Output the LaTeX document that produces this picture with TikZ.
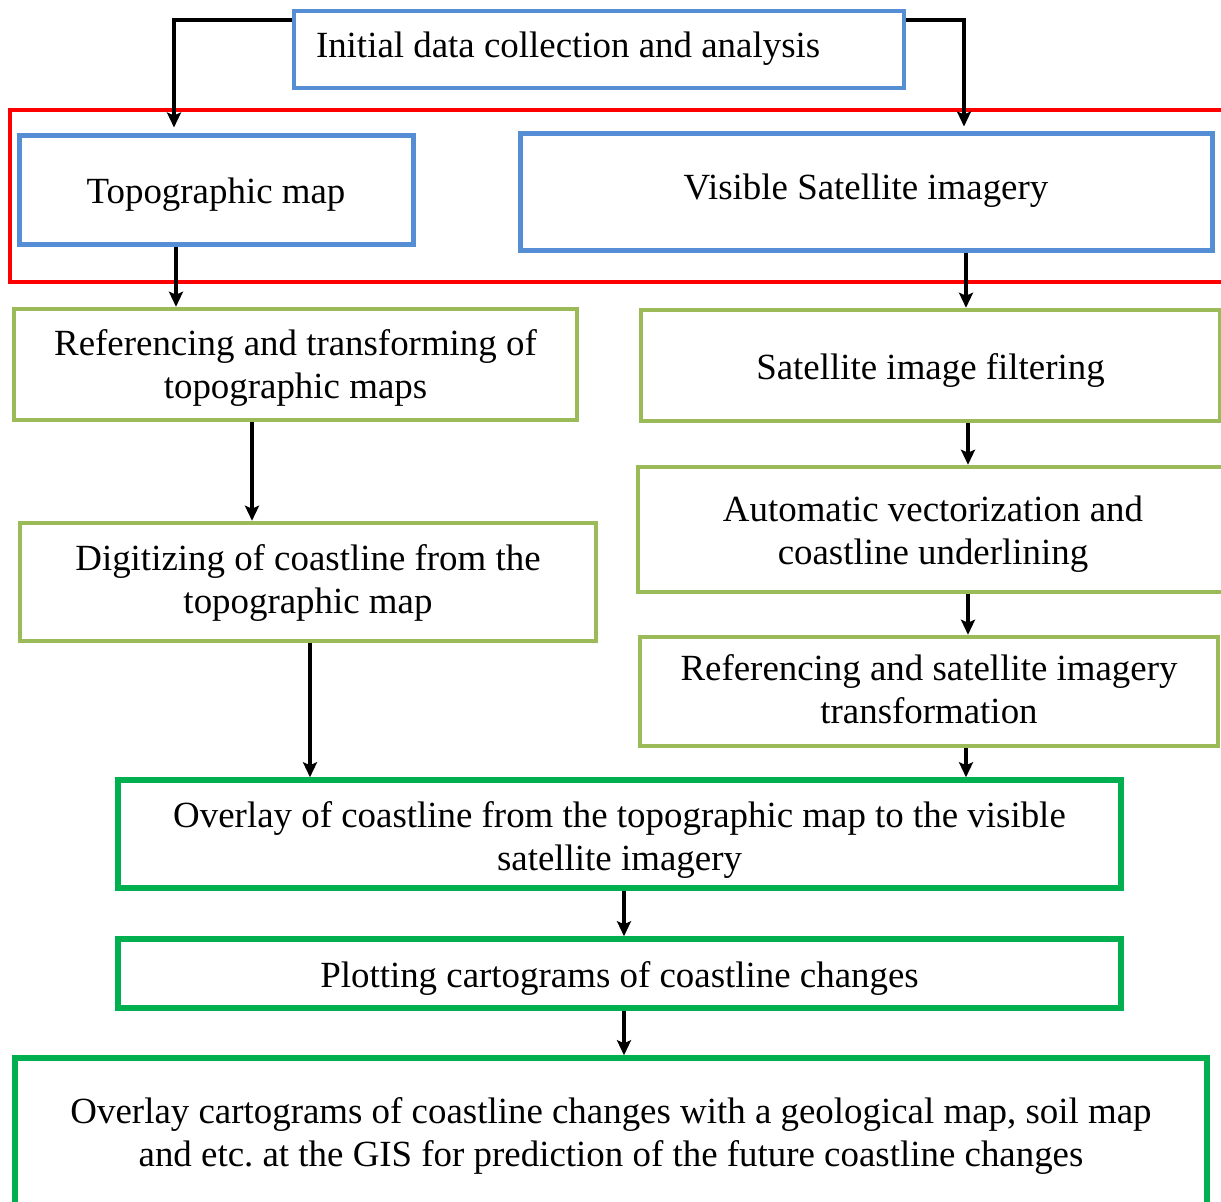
\documentclass[tikz,border=0pt]{standalone}
\usepackage{fontspec}
\setmainfont{Liberation Serif}
\usetikzlibrary{arrows.meta}
\frenchspacing
\definecolor{boxblue}{RGB}{85,142,213}
\definecolor{olive}{RGB}{155,187,89}
\definecolor{brgreen}{RGB}{0,176,80}
\definecolor{frred}{RGB}{255,0,0}
\newcommand\boxtxt[2][-4pt]{\raisebox{#1}[\height][\depth]{\begin{tabular}{@{}c@{}}#2\end{tabular}}}
\begin{document}
\begin{tikzpicture}[x=1pt,y=-1pt,
  every node/.style={font=\rmfamily\fontsize{36.9}{43}\selectfont, inner sep=0pt},
  bluebox/.style={draw=boxblue, line width=5pt, rectangle},
  initbox/.style={draw=boxblue, line width=4pt, rectangle},
  olivebox/.style={draw=olive, line width=4.5pt, rectangle},
  greenbox/.style={draw=brgreen, line width=5.5pt, rectangle},
  arr/.style={draw=black, line width=3.5pt, -{Stealth[length=15pt,width=14pt,inset=3pt]}}
]
\useasboundingbox (0,0) rectangle (1221,1202);
\clip (0,0) rectangle (1221,1202);
\fill[white] (0,0) rectangle (1221,1202);

% group frame
\draw[frred, line width=3.5pt] (1240,110) -- (10,110) -- (10,282) -- (1240,282);

\node[initbox, minimum width=610pt, minimum height=77pt] (init) at (599,49.5) {\raisebox{1pt}[\height][\depth]{\makebox[566pt][l]{Initial data collection and analysis}}};

\node[bluebox, minimum width=394pt, minimum height=109pt] (topo) at (216,189.5) {\boxtxt[-5pt]{Topographic map}};
\node[bluebox, minimum width=692pt, minimum height=117pt] (vis) at (866,191.5) {\boxtxt[1pt]{Visible Satellite imagery}};

\node[olivebox, minimum width=563pt, minimum height=111pt] (reft) at (295.5,364.5) {\boxtxt[-4pt]{Referencing and transforming of\\topographic maps}};
\node[olivebox, minimum width=579pt, minimum height=111pt] (filt) at (930.5,365.5) {\boxtxt[-5pt]{Satellite image filtering}};
\node[olivebox, minimum width=590pt, minimum height=125pt] (auto) at (933,529.5) {\boxtxt[-5pt]{Automatic vectorization and\\coastline underlining}};
\node[olivebox, minimum width=578pt, minimum height=109pt] (refs) at (929,691.5) {\boxtxt[-2pt]{Referencing and satellite imagery\\transformation}};
\node[olivebox, minimum width=576pt, minimum height=118pt] (digit) at (308,582) {\boxtxt[-1pt]{Digitizing of coastline from the\\topographic map}};

\node[greenbox, minimum width=1003pt, minimum height=108pt] (over) at (619.5,834) {\boxtxt[-6pt]{Overlay of coastline from the topographic map to the visible\\satellite imagery}};
\node[greenbox, minimum width=1003pt, minimum height=69pt] (plot) at (619.5,973.5) {\boxtxt[-5pt]{Plotting cartograms of coastline changes}};
\node[greenbox, minimum width=1192pt, minimum height=152pt] (final) at (611,1134) {\boxtxt[-2pt]{Overlay cartograms of coastline changes with a geological map, soil map\\and etc. at the GIS for prediction of the future coastline changes}};

% connector columns
\coordinate (cA) at (174,20);
\coordinate (cB) at (964,20);
\coordinate (c1) at (176,0);
\coordinate (c2) at (252,0);
\coordinate (c3) at (310,0);
\coordinate (c4) at (966,0);
\coordinate (c5) at (968,0);
\coordinate (c6) at (624,0);

\draw[arr, shorten >=5pt] (init.west |- cA) -| (topo.north -| cA);
\draw[arr, shorten >=4pt] (init.east |- cB) -| (vis.north -| cB);
\draw[arr] (topo.south -| c1) -- (reft.north -| c1);
\draw[arr] (reft.south -| c2) -- (digit.north -| c2);
\draw[arr] (digit.south -| c3) -- (over.north -| c3);
\draw[arr] (vis.south -| c4) -- (filt.north -| c4);
\draw[arr] (filt.south -| c5) -- (auto.north -| c5);
\draw[arr] (auto.south -| c5) -- (refs.north -| c5);
\draw[arr] (refs.south -| c4) -- (over.north -| c4);
\draw[arr] (over.south -| c6) -- (plot.north -| c6);
\draw[arr] (plot.south -| c6) -- (final.north -| c6);
\end{tikzpicture}
\end{document}
